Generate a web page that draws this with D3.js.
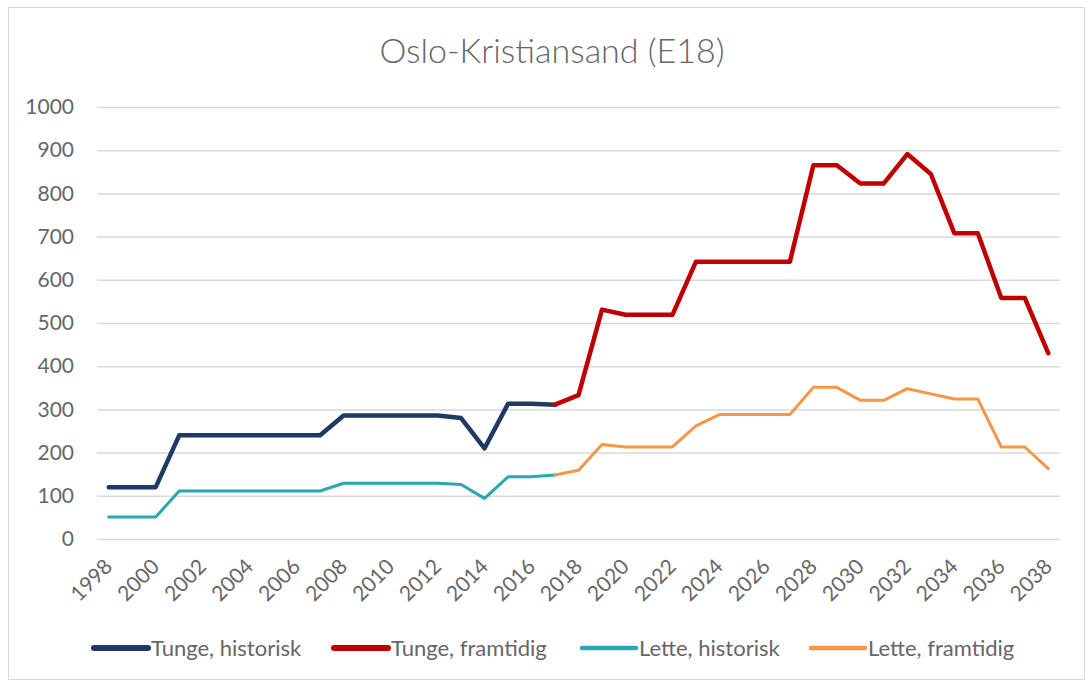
<!DOCTYPE html>
<html>
<head>
<meta charset="utf-8">
<script src="https://cdn.jsdelivr.net/npm/d3@7"></script>
<style>
  body { margin: 0; background: #fff; }
  text { font-family: Lato, "Open Sans", sans-serif; fill: #666666; }
</style>
</head>
<body>
<div id="chart"></div>
<script>
// Data
let years = d3.range(1998, 2039);
let tungeHistYears = d3.range(1998, 2018);
let tungeHist = [120,120,120,240,240,240,240,240,240,240,286,286,286,286,286,280,210,313,313,311];
let tungeFramYears = d3.range(2017, 2039);
let tungeFram = [311,333,531,519,519,519,642,642,642,642,642,865,865,823,823,891,845,708,708,558,558,430];
let letteHistYears = d3.range(1998, 2018);
let letteHist = [51,51,51,111,111,111,111,111,111,111,129,129,129,129,129,126,94,144,144,148];
let letteFramYears = d3.range(2017, 2039);
let letteFram = [148,159,219,213,213,213,262,288,288,288,288,351,351,321,321,348,336,324,324,213,213,163];
let yTicks = [0,100,200,300,400,500,600,700,800,900,1000];
let xTicks = years.filter(function(d){ return (d - 1998) % 2 === 0; });

let series = [
	{ name: 'Tunge, historisk', years: tungeHistYears, values: tungeHist, color: '#1F3864', width: 4.5 },
	{ name: 'Tunge, framtidig', years: tungeFramYears, values: tungeFram, color: '#C00000', width: 4.5 },
	{ name: 'Lette, historisk', years: letteHistYears, values: letteHist, color: '#27A8B2', width: 3 },
	{ name: 'Lette, framtidig', years: letteFramYears, values: letteFram, color: '#F79646', width: 3 }
];

// Set up SVG
let width = 1092;
let height = 684;

let svg = d3.select('#chart')
	.append('svg')
	.attr('width', width)
	.attr('height', height);

svg.append('rect')
	.attr('x', 8.5)
	.attr('y', 7.5)
	.attr('width', 1076)
	.attr('height', 672)
	.attr('fill', 'white')
	.attr('stroke', '#D9D9D9')
	.attr('stroke-width', 1);

let x = d3.scaleBand().domain(years).range([97, 1060]);
let y = d3.scaleLinear().domain([0, 1000]).range([539, 107]);
let cx = function(d){ return x(d) + x.bandwidth() / 2; };

// Title
svg.append('text')
	.attr('x', 552)
	.attr('y', 63)
	.attr('text-anchor', 'middle')
	.attr('font-size', 34)
	.attr('font-weight', 300)
	.text('Oslo-Kristiansand (E18)');

// Y axis with gridlines
let yAxis = svg.append('g')
	.attr('transform', 'translate(97,0)')
	.call(d3.axisLeft(y).tickValues(yTicks).tickFormat(d3.format('d')).tickSize(-963).tickPadding(23));
yAxis.select('.domain').remove();
yAxis.selectAll('line').attr('stroke', '#D9D9D9').attr('stroke-width', 1.5);
yAxis.selectAll('text').attr('font-size', 21).style('fill', '#666666');

// X axis
let xAxis = svg.append('g')
	.attr('transform', 'translate(0,539)')
	.call(d3.axisBottom(x).tickValues(xTicks).tickSize(0).tickPadding(0));
xAxis.select('.domain').remove();
xAxis.selectAll('text')
	.attr('font-size', 21)
	.attr('text-anchor', 'end')
	.attr('dy', 0)
	.attr('y', 0)
	.attr('transform', 'translate(5,29) rotate(-45)')
	.style('fill', '#666666');

// Lines
let line = d3.line()
	.x(function(d){ return cx(d[0]); })
	.y(function(d){ return y(d[1]); });

let drawOrder = [2, 3, 0, 1];
drawOrder.forEach(function(i){
	let s = series[i];
	svg.append('path')
		.datum(d3.zip(s.years, s.values))
		.attr('fill', 'none')
		.attr('stroke', s.color)
		.attr('stroke-width', s.width)
		.attr('stroke-linejoin', 'round')
		.attr('stroke-linecap', 'round')
		.attr('d', line);
});

// Legend
let legendX = [94, 334, 582, 811];
series.forEach(function(s, i){
	svg.append('line')
		.attr('x1', legendX[i])
		.attr('x2', legendX[i] + 54)
		.attr('y1', 648)
		.attr('y2', 648)
		.attr('stroke', s.color)
		.attr('stroke-width', s.width + 1.5)
		.attr('stroke-linecap', 'round');
	svg.append('text')
		.attr('x', legendX[i] + 57)
		.attr('y', 656)
		.attr('font-size', 22)
		.text(s.name);
});
</script>
</body>
</html>
